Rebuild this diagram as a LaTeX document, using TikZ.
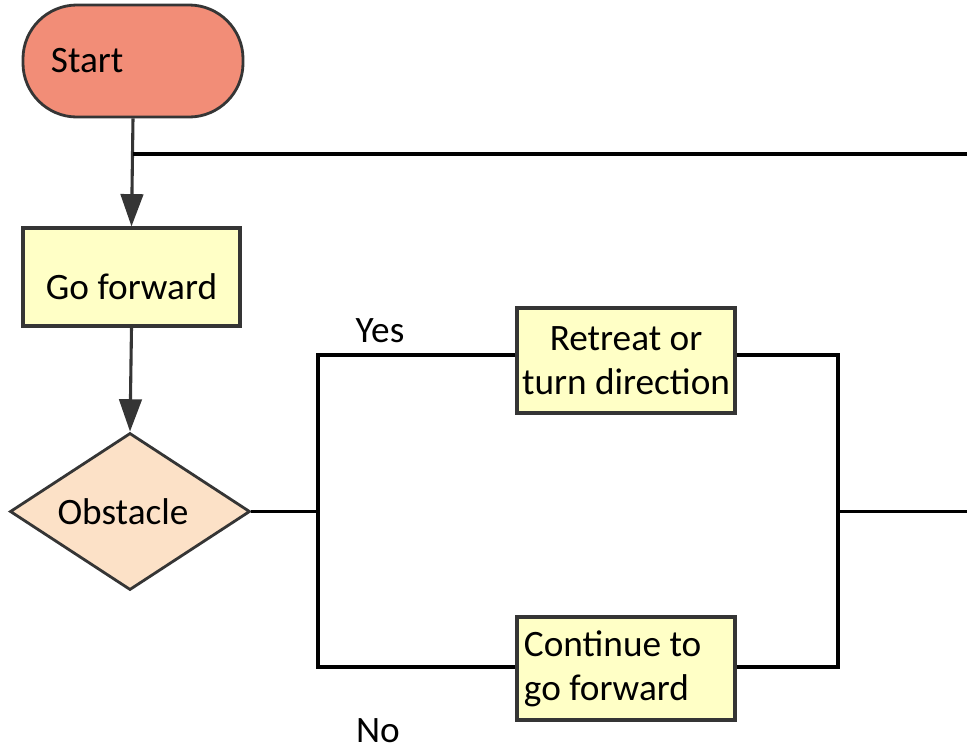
\documentclass[tikz,border=0pt]{standalone}
\usepackage{fontspec}
\setmainfont{Carlito}
\usetikzlibrary{arrows.meta,shapes.geometric}
\definecolor{startfill}{HTML}{F28D77}
\definecolor{procfill}{HTML}{FFFFC6}
\definecolor{decfill}{HTML}{FCE1C7}
\definecolor{edge}{HTML}{353535}

\begin{document}
\begin{tikzpicture}[x=0.025cm,y=-0.025cm,
  font=\fontsize{26.5}{31.5}\selectfont,
  terminal/.style={draw=edge,line width=2pt,fill=startfill,rounded corners=1.35cm,
    minimum width=5.5cm,minimum height=2.8cm,inner xsep=0.68cm,text width=4.1cm,align=flush left},
  procbox/.style={draw=edge,line width=2.2pt,fill=procfill,minimum width=5.45cm,inner sep=2pt,align=center},
  decbox/.style={draw=edge,line width=2pt,fill=decfill,diamond,minimum width=6cm,minimum height=3.925cm,inner sep=0pt},
  flow/.style={edge,line width=2.2pt,-{Triangle[length=23pt,width=16pt]}},
  wire/.style={black,line width=2.4pt}]
  \useasboundingbox (0,0) rectangle (967,752);

  % Main column
  \node[terminal] (start) at (133,61) {Start};
  \node[procbox,minimum height=2.45cm,minimum width=5.425cm] (fwd) at (131.5,277) {\smash{\raisebox{-0.6em}{Go forward}}};
  \node[decbox] (obst) at (130,511.5) {\hspace*{-0.35cm}Obstacle};

  % Branch boxes
  \node[procbox,minimum height=2.625cm] (retreat) at (626,360.5) {Retreat or\\turn direction};
  \node[procbox,minimum height=2.575cm,text width=5.1cm,align=flush left] (cont) at (626,668.5) {Continue to\\go forward};

  % Junctions
  \coordinate (loop) at (133,154);
  \coordinate (loopR) at (967,154);
  \coordinate (splitL) at (318,511.5);
  \coordinate (yesL) at (318,355);
  \coordinate (noL) at (318,667);
  \coordinate (yesR) at (838,355);
  \coordinate (noR) at (838,667);
  \coordinate (joinR) at (838,511.5);
  \coordinate (outR) at (967,511.5);

  % Arrows
  \draw[flow] (start.south) -- (fwd.north);
  \draw[flow] (fwd.south) -- (obst.north);
  \draw[wire] (loop) -- (loopR);

  % Branches
  \draw[wire] (obst.east) -- (splitL);
  \draw[wire] (retreat.west |- yesL) -- (yesL) -- (noL) -- (cont.west |- noL);
  \draw[wire] (retreat.east |- yesR) -- (yesR) -- (noR) -- (cont.east |- noR);
  \draw[wire] (joinR) -- (outR);

  % Labels
  \node (yes) at (380,331) {Yes};
  \node (no) at (378,731) {No};
\end{tikzpicture}
\end{document}
